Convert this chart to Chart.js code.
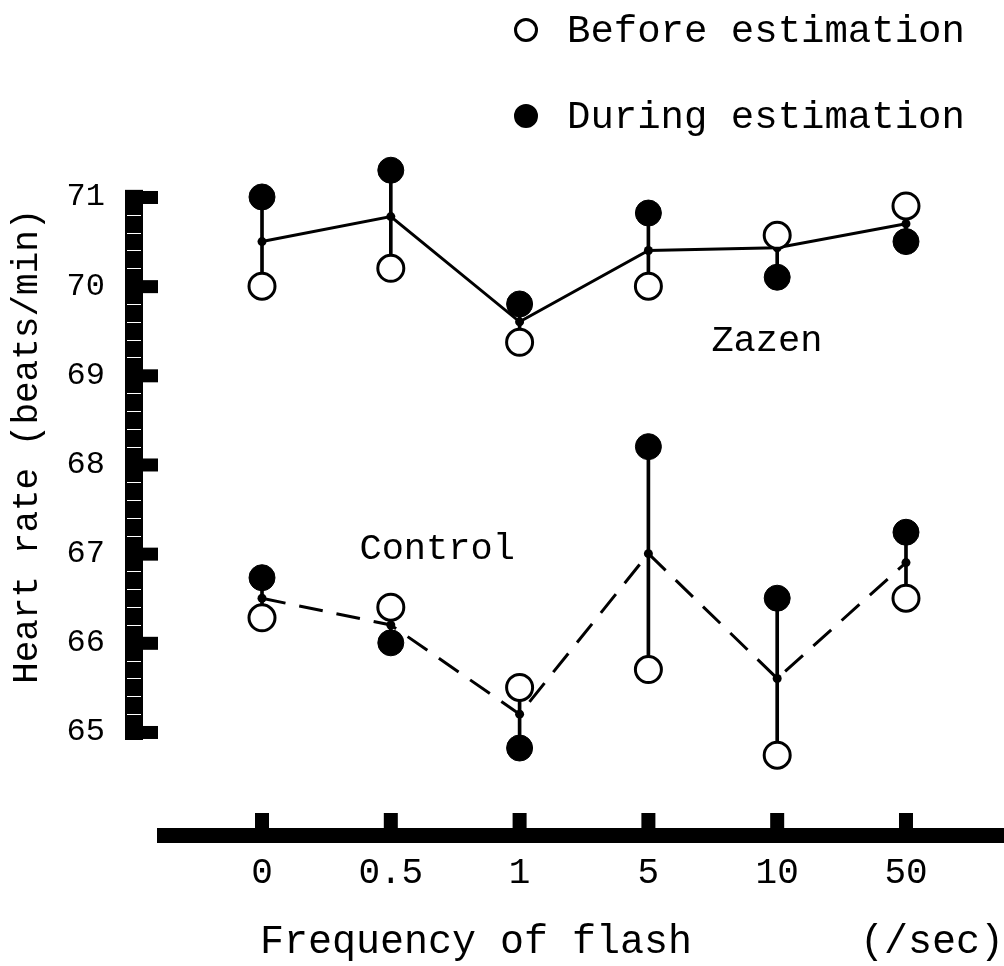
<!DOCTYPE html>
<html>
<head>
<meta charset="utf-8">
<script src="https://cdn.jsdelivr.net/npm/chart.js@4.4.1/dist/chart.umd.min.js"></script>
<style>
  html, body { margin: 0; padding: 0; background: #fff; overflow: hidden; }
  #hrChart { display: block; }
</style>
</head>
<body>
<canvas id="hrChart" width="1004" height="966"></canvas>
<script>
// heart rate readings
const freqLabels = ['0', '0.5', '1', '5', '10', '50'];
const zazenBefore = [70.0, 70.2, 69.37, 70.0, 70.57, 70.9];
const zazenDuring = [71.0, 71.3, 69.8, 70.82, 70.1, 70.5];
const zazenMean = [70.5, 70.78, 69.6, 70.4, 70.43, 70.7];
const controlBefore = [66.28, 66.4, 65.5, 65.7, 64.74, 66.5];
const controlDuring = [66.73, 66.0, 64.82, 68.2, 66.5, 67.24];
const controlMean = [66.5, 66.2, 65.2, 67.0, 65.6, 66.9];
const yTicks = [65, 66, 67, 68, 69, 70, 71];

const FONT = "'Liberation Mono', 'Courier New', monospace";
const xy = arr => arr.map((v, i) => ({ x: i, y: v }));
const stems = (a, b) => a.map((v, i) => ({ x: i, y: [v, b[i]] }));

// group labels placed in data coordinates
const groupNotes = [
  { text: 'Zazen', x: 3.92, y: 69.38 },
  { text: 'Control', x: 1.36, y: 67.05 }
];

// thick ruler-like axes of the original figure
const rulerAxes = {
  id: 'rulerAxes',
  beforeDatasetsDraw(chart) {
    const { ctx, chartArea, scales } = chart;
    const ys = scales.y, xs = scales.x;
    const top = ys.getPixelForValue(71.08);
    ctx.save();
    ctx.fillStyle = '#000';
    // vertical bar
    ctx.fillRect(chartArea.left - 18, top, 18, chartArea.bottom - top);
    yTicks.forEach(v => {
      const p = ys.getPixelForValue(v);
      ctx.fillRect(chartArea.left - 1, p - 6, 16, 13);
    });
    ctx.fillStyle = '#fff';
    for (let v = 65; v < 71; v += 0.2) {
      if (Math.abs(v - Math.round(v)) < 0.05) continue;
      const p = Math.round(ys.getPixelForValue(v));
      ctx.fillRect(chartArea.left - 16, p, 14, 1);
    }
    // horizontal bar
    ctx.fillStyle = '#000';
    const barY = chartArea.bottom + 88;
    ctx.fillRect(chartArea.left + 14, barY, chart.width - chartArea.left - 14, 15);
    freqLabels.forEach((l, i) => {
      const p = xs.getPixelForValue(i);
      ctx.fillRect(p - 7, barY - 15, 14, 15);
    });
    ctx.restore();
  },
  afterDatasetsDraw(chart) {
    const { ctx, scales } = chart;
    ctx.save();
    ctx.fillStyle = '#000';
    ctx.font = '37px ' + FONT;
    ctx.textAlign = 'center';
    ctx.textBaseline = 'middle';
    groupNotes.forEach(n => {
      ctx.fillText(n.text, scales.x.getPixelForValue(n.x), scales.y.getPixelForValue(n.y));
    });
    // legend
    const items = [
      { text: 'Before estimation', fill: '#fff', y: 30 },
      { text: 'During estimation', fill: '#000', y: 116 }
    ];
    ctx.textAlign = 'left';
    ctx.font = '39px ' + FONT;
    items.forEach(it => {
      ctx.beginPath();
      ctx.arc(526, it.y, 10.5, 0, Math.PI * 2);
      ctx.fillStyle = it.fill;
      ctx.fill();
      ctx.lineWidth = 3;
      ctx.strokeStyle = '#000';
      ctx.stroke();
      ctx.fillStyle = '#000';
      ctx.fillText(it.text, 567, it.y + 2);
    });
    ctx.restore();
  }
};

const stemStyle = {
  type: 'bar', backgroundColor: '#000', borderWidth: 0,
  barThickness: 3, grouped: false, order: 5, clip: false
};
const meanStyle = {
  type: 'line', borderColor: '#000', borderWidth: 3,
  pointRadius: 4.5, pointBackgroundColor: '#000', pointBorderWidth: 0,
  fill: false, tension: 0, order: 3, clip: false
};
const openStyle = {
  type: 'scatter', pointRadius: 13, pointBackgroundColor: '#fff',
  pointBorderColor: '#000', pointBorderWidth: 3, order: 1, clip: false
};
const fullStyle = {
  type: 'scatter', pointRadius: 13, pointBackgroundColor: '#000',
  pointBorderColor: '#000', pointBorderWidth: 1, order: 1, clip: false
};

new Chart(document.getElementById('hrChart'), {
  data: {
    datasets: [
      { ...stemStyle, label: 'Zazen range', data: stems(zazenBefore, zazenDuring) },
      { ...stemStyle, label: 'Control range', data: stems(controlBefore, controlDuring) },
      { ...meanStyle, label: 'Zazen', data: xy(zazenMean) },
      { ...meanStyle, label: 'Control', data: xy(controlMean), borderDash: [24, 14] },
      { ...openStyle, label: 'Before estimation', data: xy(zazenBefore) },
      { ...fullStyle, label: 'During estimation', data: xy(zazenDuring) },
      { ...openStyle, label: 'Before estimation (control)', data: xy(controlBefore) },
      { ...fullStyle, label: 'During estimation (control)', data: xy(controlDuring) }
    ]
  },
  options: {
    responsive: false,
    animation: false,
    layout: { autoPadding: false, padding: { top: 152.4, right: 0, bottom: 0, left: 0 } },
    plugins: { legend: { display: false }, tooltip: { enabled: false } },
    scales: {
      x: {
        type: 'linear', position: 'bottom', offset: false,
        min: -0.924, max: 5.761,
        afterBuildTicks: s => { s.ticks = freqLabels.map((l, i) => ({ value: i })); },
        afterFit: s => { s.height = 226; },
        grid: { display: false, drawTicks: true, tickLength: 112, offset: false },
        border: { display: false },
        ticks: {
          padding: 0, color: '#000', maxRotation: 0, autoSkip: false,
          font: { family: FONT, size: 36 },
          callback: v => freqLabels[v]
        },
        title: {
          display: true, align: 'end', color: '#000',
          text: 'Frequency of flash       (/sec)',
          font: { family: FONT, size: 40 },
          padding: { top: 0, bottom: 0 }
        }
      },
      y: {
        min: 64.91, max: 71.5,
        afterBuildTicks: s => { s.ticks = yTicks.map(v => ({ value: v })); },
        afterFit: s => { s.width = 143; },
        grid: { display: false, drawTicks: true, tickLength: 38 },
        border: { display: false },
        ticks: { padding: 0, color: '#000', font: { family: FONT, size: 32 } },
        title: {
          display: true, color: '#000',
          text: 'Heart rate (beats/min)',
          font: { family: FONT, size: 36 },
          padding: { top: 6, bottom: 0 }
        }
      }
    }
  },
  plugins: [rulerAxes]
});
</script>
</body>
</html>
